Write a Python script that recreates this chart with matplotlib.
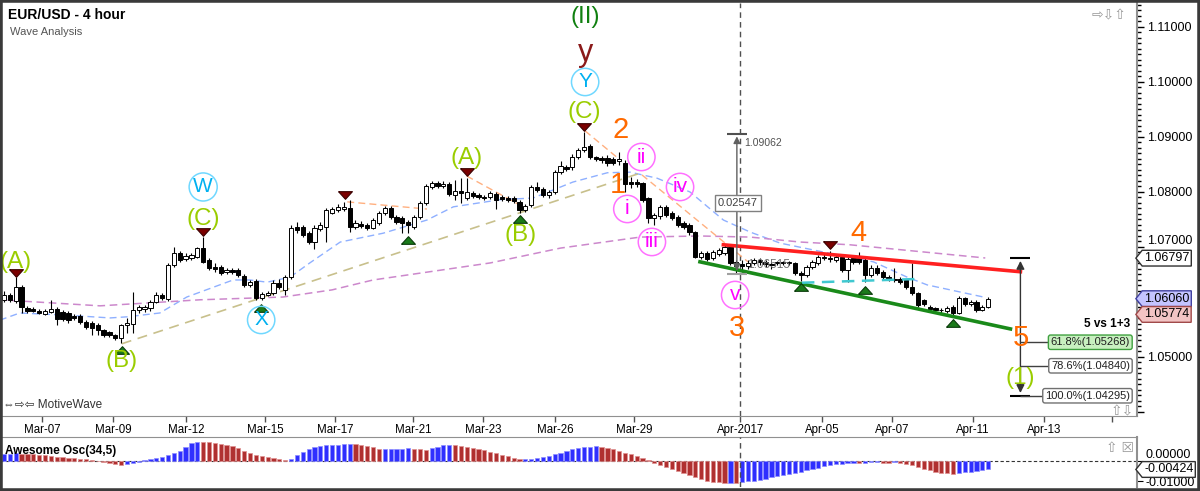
import numpy as np
import matplotlib.pyplot as plt
from matplotlib.path import Path
from matplotlib.patches import Rectangle
from matplotlib.ticker import MultipleLocator

plt.rcParams['font.family'] = ['Liberation Sans', 'DejaVu Sans']

# EUR/USD 4h candles, in pips above 1.0000
opens = [604, 613, 602, 627, 589, 587, 584, 578, 582, 587,
         582, 580, 575, 575, 564, 562, 558, 549, 545, 540,
         535, 558, 560, 585, 587, 589, 600, 613, 606, 667,
         689, 678, 680, 682, 698, 676, 664, 664, 655, 658,
         658, 647, 631, 638, 607, 613, 616, 635, 622, 645,
         736, 736, 725, 709, 733, 736, 762, 767, 769, 771,
         736, 742, 740, 735, 744, 762, 771, 755, 753, 745,
         736, 755, 780, 809, 816, 811, 815, 795, 802, 789,
         798, 795, 791, 791, 796, 791, 789, 789, 782, 767,
         776, 809, 805, 795, 800, 836, 845, 845, 864, 876,
         884, 864, 862, 862, 860, 856, 853, 818, 818, 816,
         789, 753, 756, 773, 762, 755, 744, 740, 727, 682,
         689, 680, 687, 689, 700, 673, 669, 665, 671, 676,
         673, 669, 671, 672, 671, 671, 653, 649, 664, 671,
         682, 680, 676, 682, 658, 680, 680, 676, 649, 662,
         655, 645, 642, 642, 640, 627, 616, 604, 591, 589,
         585, 584, 591, 580, 607, 596, 600, 585, 591]
highs = [620, 617, 645, 630, 592, 590, 587, 587, 604, 590,
         585, 584, 578, 578, 567, 565, 562, 551, 547, 542,
         560, 571, 618, 595, 595, 604, 618, 616, 671, 700,
         693, 689, 689, 700, 718, 680, 671, 667, 662, 662,
         662, 651, 640, 642, 618, 620, 640, 642, 649, 740,
         745, 740, 729, 740, 745, 770, 773, 778, 782, 785,
         749, 747, 744, 753, 765, 775, 775, 758, 756, 749,
         758, 784, 815, 820, 820, 820, 818, 822, 825, 825,
         802, 798, 795, 802, 800, 795, 793, 793, 785, 778,
         813, 818, 809, 804, 840, 856, 849, 869, 880, 909,
         887, 866, 866, 867, 864, 873, 858, 827, 824, 818,
         791, 762, 776, 776, 765, 758, 747, 744, 729, 693,
         693, 695, 698, 704, 704, 676, 676, 676, 680, 680,
         676, 673, 675, 675, 675, 673, 656, 667, 676, 685,
         687, 693, 687, 685, 682, 685, 691, 680, 667, 667,
         658, 649, 662, 645, 642, 671, 618, 606, 595, 591,
         589, 593, 595, 611, 609, 604, 604, 595, 609]
lows = [600, 600, 598, 580, 580, 582, 578, 576, 580, 558,
        565, 562, 567, 560, 551, 540, 540, 536, 536, 531,
        525, 544, 544, 580, 582, 584, 598, 604, 602, 664,
        673, 675, 676, 680, 671, 658, 655, 649, 651, 651,
        645, 627, 627, 604, 604, 611, 613, 624, 613, 642,
        725, 718, 705, 696, 729, 709, 760, 764, 765, 727,
        733, 735, 731, 733, 740, 758, 751, 742, 725, 725,
        733, 751, 776, 805, 807, 807, 793, 785, 780, 785,
        789, 787, 785, 787, 769, 784, 782, 780, 762, 764,
        773, 800, 791, 789, 796, 833, 838, 840, 860, 873,
        860, 856, 853, 847, 849, 849, 800, 807, 809, 782,
        744, 740, 751, 755, 749, 736, 733, 722, 680, 678,
        675, 676, 684, 685, 667, 652, 655, 660, 667, 667,
        664, 660, 668, 668, 668, 649, 638, 645, 660, 667,
        676, 673, 673, 655, 636, 669, 669, 636, 645, 649,
        642, 638, 636, 633, 624, 613, 591, 593, 584, 582,
        580, 580, 577, 578, 593, 593, 582, 584, 589]
closes = [613, 604, 627, 591, 584, 584, 580, 584, 587, 569,
          569, 567, 571, 564, 555, 553, 549, 540, 540, 535,
          558, 562, 585, 591, 591, 600, 613, 607, 667, 689,
          676, 684, 685, 698, 673, 662, 660, 653, 658, 655,
          649, 631, 636, 607, 615, 616, 635, 628, 645, 735,
          731, 722, 709, 735, 740, 767, 769, 773, 773, 736,
          744, 738, 735, 749, 762, 771, 755, 745, 744, 740,
          755, 780, 811, 816, 811, 815, 796, 802, 798, 800,
          793, 791, 789, 798, 785, 787, 785, 784, 767, 775,
          809, 804, 795, 800, 836, 847, 842, 864, 876, 882,
          864, 860, 858, 853, 853, 860, 815, 815, 815, 785,
          753, 758, 773, 758, 753, 740, 736, 727, 682, 689,
          678, 691, 695, 700, 671, 665, 665, 671, 676, 673,
          669, 667, 672, 671, 671, 653, 649, 664, 673, 682,
          680, 678, 682, 658, 678, 673, 673, 649, 662, 653,
          645, 642, 640, 636, 627, 616, 595, 596, 587, 585,
          585, 589, 580, 607, 596, 600, 585, 591, 606]

# Awesome Oscillator (34,5), in pips
ao_pips = [35, 37, 38, 37, 36, 34, 31, 28, 25, 22,
           19, 16, 13, 11, 8, 5, -2, -7, -12, -16,
           -19, -15, -9, -3, 4, 9, 15, 22, 30, 40,
           52, 72, 88, 96, 95, 93, 90, 86, 81, 74,
           64, 52, 40, 31, 24, 18, 13, 9, 5, 12,
           28, 45, 60, 72, 77, 79, 80, 82, 84, 86,
           84, 80, 75, 68, 61, 61, 61, 62, 62, 63,
           61, 59, 57, 64, 72, 78, 80, 79, 76, 72,
           67, 61, 54, 47, 40, 32, 24, 16, 9, 10,
           12, 15, 19, 24, 36, 42, 50, 58, 64, 69,
           72, 74, 72, 66, 58, 50, 42, 33, 24, 14,
           3, -10, -20, -30, -40, -50, -60, -70, -80, -90,
           -98, -104, -107, -109, -108, -110, -106, -102, -98, -93,
           -88, -82, -77, -71, -65, -59, -53, -47, -41, -34,
           -27, -21, -17, -14, -12, -10, -11, -9, -7, -6,
           -8, -9, -7, -10, -15, -22, -30, -38, -46, -53,
           -58, -62, -64, -61, -57, -53, -49, -45, -42]

date_ticks = [6.5, 18.6, 31.1, 44.6, 56.5, 69.8, 81.8, 94.1, 107.6,
              125.7, 139.7, 151.6, 165.4, 177.6, 189.2]
date_labels = ['Mar-07', 'Mar-09', 'Mar-12', 'Mar-15', 'Mar-17', 'Mar-21',
               'Mar-23', 'Mar-26', 'Mar-29', 'Apr-2017', 'Apr-05', 'Apr-07',
               'Apr-11', 'Apr-13', '']

# moving averages (bar index, pips)
fast_ma_bars = [-0.7, 2.7, 10.8, 18.1, 21, 26.6, 31.2, 39.1, 42, 44.9, 48.8,
                52.2, 57.4, 64.7, 72.2, 76.7, 84.7, 90.3, 97.1, 103, 106.9,
                111.5, 117.1, 122.8, 127.4, 132.5, 139.8, 148.4, 154.2, 157.6,
                167.2]
fast_ma = [567, 580, 576, 571, 573, 580, 609, 640, 640, 636, 645,
           671, 709, 725, 749, 773, 786, 789, 818, 835, 836,
           825, 800, 749, 727, 707, 691, 673, 645, 631, 609]
slow_ma_bars = [-0.7, 16.4, 33.5, 47.6, 56, 63, 83, 95, 108.6, 118.8, 127.4,
                135.9, 144.4, 167.5]
slow_ma = [604, 593, 604, 609, 622, 640, 671, 698, 718, 720, 718,
           709, 704, 680]

# trend lines (bar index pairs, pips)
channel_bars, channel_pips = [20.1, 109.1], [524, 836]
zigzag_bars = [[58.6, 72.2], [79, 88.1], [99.2, 105.2], [108.9, 127]]
zigzag_pips = [[782, 769], [829, 776], [911, 858], [831, 673]]
upper_bars, upper_pips = [122.8, 173.5], [704, 655]
lower_bars, lower_pips = [118.8, 171.8], [673, 551]
mid_bars, mid_pips = [136.2, 156.4], [635, 642]

swing_high_bars = [2, 34, 58.2, 79, 99, 141]
swing_high_px = [1.06527, 1.07273, 1.07945, 1.08364, 1.09182, 1.07036]
swing_low_bars = [20.1, 43.9, 69, 88.1, 136.1, 147, 162]
swing_low_px = [1.05127, 1.05891, 1.07127, 1.07509, 1.06273, 1.06218, 1.05618]

fib_levels = [1.05268, 1.04840, 1.04295]
fib_names = ['61.8%', '78.6%', '100.0%']
proj_top = 1.06797
measure_top, measure_low = 1.09062, 1.06515
last_price, recent_low, ao_last = 1.06060, 1.05774, -0.00424


def to_price(v):
    return 1 + np.asarray(v, dtype=float) / 1e4


def tag_box(x0, y0, width, height, mutation_size):
    pad = 0.15 * mutation_size
    x0, y0 = x0 - pad, y0 - pad
    x1, y1 = x0 + width + 2 * pad, y0 + height + 2 * pad
    ym = (y0 + y1) / 2
    tip = x0 - (y1 - y0) * 0.4
    return Path([(tip, ym), (x0, y1), (x1, y1), (x1, y0), (x0, y0), (tip, ym)],
                closed=True)


o, h, l, c = (to_price(v) for v in (opens, highs, lows, closes))
idx = np.arange(len(o))

fig = plt.figure(figsize=(12, 4.91), dpi=100)
ax = fig.add_axes([0, 75 / 491, 1137 / 1200, 413 / 491])
osc = fig.add_axes([0, 4 / 491, 1137 / 1200, 50 / 491])

xlim = (-0.68, 193.4)
ax.set_xlim(xlim)
ax.set_ylim(1.03927, 1.11436)

# moving averages and helper lines behind the candles
ax.plot(fast_ma_bars, to_price(fast_ma), color='#8fb0ff', lw=1, ls=(0, (5, 3)), zorder=2)
ax.plot(slow_ma_bars, to_price(slow_ma), color='#cc88cc', lw=1.1, ls=(0, (5, 3)), zorder=2)
ax.plot(channel_bars, to_price(channel_pips), color='#c8c08c', lw=1.2, ls=(0, (6, 4)), zorder=2)
for xs, ys in zip(zigzag_bars, zigzag_pips):
    ax.plot(xs, to_price(ys), color='#ffb080', lw=1, ls=(0, (5, 3)), zorder=2)

# candles
up = c >= o
ax.vlines(idx, l, h, color='black', lw=0.8, zorder=3)
body_lo = np.minimum(o, c)
body_h = np.maximum(np.abs(c - o), 0.00012)
ax.bar(idx, body_h, 0.72, bottom=body_lo, color=np.where(up, 'white', 'black'),
       edgecolor='black', lw=0.7, zorder=4)

# triangle
ax.plot(upper_bars, to_price(upper_pips), color='#ff2020', lw=2.6, zorder=5)
ax.plot(lower_bars, to_price(lower_pips), color='#1a8a1a', lw=2.6, zorder=5)
ax.plot(mid_bars, to_price(mid_pips), color='#40c8d0', lw=1.8, ls=(0, (5, 3)), zorder=5)

flat_down = [(-1, 0.55), (1, 0.55), (0, -0.55), (-1, 0.55)]
flat_up = [(-1, -0.55), (1, -0.55), (0, 0.55), (-1, -0.55)]
ax.plot(swing_high_bars, swing_high_px, ls='none', marker=flat_down, ms=10,
        color='#7b0000', mec='#3a0000', mew=0.8, zorder=6)
ax.plot(swing_low_bars, swing_low_px, ls='none', marker=flat_up, ms=10,
        color='#1a7a1a', mec='#0a3a0a', mew=0.8, zorder=6)

# wave labels
lime, cyan, magenta, orange = '#9acd00', '#00b0f0', '#ff00ff', '#ff6a00'
plain = [('(A)', 2, 1.0673, lime, 17.5), ('(B)', 20.1, 1.04927, lime, 17.5),
         ('(C)', 34, 1.07509, lime, 17.5), ('(A)', 79, 1.08618, lime, 17.5),
         ('(B)', 88.1, 1.07218, lime, 17.5), ('(C)', 99, 1.09455, lime, 17.5),
         ('y', 99.2, 1.10527, '#8b1a1a', 22), ('(II)', 99.2, 1.11182, '#108010', 17.5),
         ('2', 105.3, 1.09127, orange, 21), ('1', 104.7, 1.08127, orange, 21),
         ('3', 125.1, 1.05527, orange, 21), ('4', 145.8, 1.07255, orange, 21),
         ('5', 173.5, 1.05345, orange, 21), ('(1)', 173.5, 1.04618, lime, 17.5)]
for s, x, y, col, fs in plain:
    ax.text(x, y, s, color=col, fontsize=fs, ha='center', va='center', zorder=7)

ringed = [('W', 34, 1.08091, cyan, '#70d8ff'), ('X', 43.9, 1.05673, cyan, '#70d8ff'),
          ('Y', 99.2, 1.1, cyan, '#70d8ff'), ('ii', 108.8, 1.08636, magenta, '#ff70ff'),
          ('i', 106.4, 1.07691, magenta, '#ff70ff'), ('iv', 115.4, 1.08091, magenta, '#ff70ff'),
          ('iii', 110.6, 1.07091, magenta, '#ff70ff'), ('v', 124.8, 1.06127, magenta, '#ff70ff')]
for s, x, y, col, ring in ringed:
    ax.text(x, y, s, color=col, fontsize=15, ha='center', va='center', zorder=7,
            bbox=dict(boxstyle='circle,pad=0.2', fc='none', ec=ring, lw=1.1))

# measuring tool around wave 3
ax.annotate('', xy=(125.1, measure_top), xytext=(125.1, measure_low),
            arrowprops=dict(arrowstyle='<|-|>', color='#606060', lw=1, mutation_scale=10),
            zorder=6)
ax.hlines(measure_top, 123.4, 126.8, color='#505050', lw=1.5, zorder=6)
ax.hlines(measure_low, 123.4, 126.8, color='#a0a0a0', lw=1.5, zorder=6)
ax.text(126.3, measure_top - 0.0017, f'{measure_top:.5f}', color='#505050', fontsize=7.5,
        va='center', zorder=7)
ax.text(125.3, 1.0780, f'{measure_top - measure_low:.5f}', color='#404040', fontsize=8,
        ha='center', va='center', zorder=7,
        bbox=dict(boxstyle='square,pad=0.25', fc='white', ec='#808080', lw=1))
ax.text(126.9, 1.0667, f'{measure_low:.5f}', color='#707070', fontsize=8.5,
        va='center', zorder=7)

# wave 5 projection
ax.annotate('', xy=(173.5, proj_top), xytext=(173.5, fib_levels[-1]),
            arrowprops=dict(arrowstyle='<|-|>', color='#333333', lw=1, mutation_scale=12),
            zorder=6)
ax.hlines([proj_top, fib_levels[-1]], 171.8, 175.2, color='black', lw=1.5, zorder=6)
ax.hlines(fib_levels[:2], 173.5, 179.4, color='#404040', lw=1, zorder=6)
ax.hlines(fib_levels[2], 173.5, 178.2, color='#404040', lw=1, zorder=6)
for lvl, name in zip(fib_levels, fib_names):
    green = name == '61.8%'
    ax.text(192.2, lvl, f'{name}({lvl:.5f})', fontsize=8, ha='right', va='center',
            color='#202020', zorder=8,
            bbox=dict(boxstyle='round,pad=0.2', fc='#c8f0c0' if green else 'white',
                      ec='#40a040' if green else '#707070', lw=1))
ax.text(192.2, 1.0560, '5 vs 1+3', fontsize=8.5, fontweight='bold', ha='right',
        va='center', zorder=8)

ax.axvline(125.7, color='#505050', lw=1, ls=(0, (4, 3)), zorder=1)

# price axis
ax.yaxis.tick_right()
ax.set_yticks(np.arange(1.04, 1.1101, 0.01))
ax.set_yticklabels(['', '1.05000', '', '1.07000', '1.08000', '1.09000', '1.10000', '1.11000'])
ax.get_yticklabels()[3].set_va('bottom')
ax.yaxis.set_minor_locator(MultipleLocator(0.001))
ax.tick_params(axis='y', which='major', length=5, width=1, labelsize=9, pad=2)
ax.tick_params(axis='y', which='minor', length=3, width=1)
ax.set_xticks(date_ticks)
ax.set_xticklabels(date_labels)
ax.tick_params(axis='x', length=4, width=1, labelsize=8.3, pad=2, color='#505050')
for side in ('left', 'top'):
    ax.spines[side].set_visible(False)
ax.spines['right'].set_color('#909090')
ax.spines['right'].set_linewidth(1.5)
ax.spines['bottom'].set_color('#909090')

tag_font = 9
ytr = ax.get_yaxis_transform()
for val, fc, ec in [(proj_top, 'white', '#303030'), (last_price, '#c4c4ff', '#4040a0'),
                    (recent_low, '#f2c4c4', '#a04848')]:
    ax.text(1.0062, val, f'{val:.5f}', transform=ytr, fontsize=tag_font, va='center',
            ha='left', zorder=9, clip_on=False,
            bbox=dict(boxstyle=tag_box, fc=fc, ec=ec, lw=1))

ax.text(0.007, 0.971, 'EUR/USD - 4 hour', transform=ax.transAxes, fontsize=10,
        fontweight='bold', va='center')
ax.text(0.009, 0.93, 'Wave Analysis', transform=ax.transAxes, fontsize=8,
        color='#555555', va='center')
ax.text(0.003, 0.027, '\u21d4\u21e8\u21e6 MotiveWave', transform=ax.transAxes,
        fontsize=8.5, color='#333333', va='center')
ax.text(0.987, 0.012, '\u21e7\u21e9', transform=ax.transAxes, fontsize=10,
        color='#999999', ha='center', va='center')
ax.text(0.975, 0.971, '\u21e8\u21e9\u21e7', transform=ax.transAxes, fontsize=10,
        color='#999999', ha='center', va='center')

# awesome oscillator
ao = np.asarray(ao_pips) / 1e4
rising = np.r_[True, ao[1:] >= ao[:-1]]
osc.bar(idx, ao, 0.72, color=np.where(rising, '#2f2fff', '#b03030'),
        edgecolor=np.where(rising, '#8c8cff', '#e09090'), lw=0.5, zorder=3)
osc.axhline(0, color='#333333', lw=0.8, ls=(0, (3, 2)), zorder=2)
osc.axvline(125.7, color='#505050', lw=1, ls=(0, (4, 3)), zorder=4)
osc.set_xlim(xlim)
osc.set_ylim(-0.0130, 0.0120)
osc.set_xticks([])
osc.yaxis.tick_right()
osc.set_yticks([0, -0.01])
osc.set_yticklabels(['0.00000', '-0.01000'])
osc.get_yticklabels()[0].set_va('bottom')
osc.tick_params(axis='y', length=4, labelsize=9, pad=2)
for side in ('left', 'bottom'):
    osc.spines[side].set_visible(False)
osc.spines['right'].set_color('#909090')
osc.spines['right'].set_linewidth(1.5)
osc.spines['top'].set_color('#909090')
osc.text(0.004, 0.72, 'Awesome Osc(34,5)', transform=osc.transAxes, fontsize=8.5,
         fontweight='bold', va='center', zorder=6)
osc.text(0.985, 0.78, '\u21e7 \u2612', transform=osc.transAxes, fontsize=10,
         color='#999999', ha='center', va='center')
osc.text(1.0062, ao_last, f'{ao_last:.5f}', transform=osc.get_yaxis_transform(),
         fontsize=tag_font, va='center', ha='left', zorder=9, clip_on=False,
         bbox=dict(boxstyle=tag_box, fc='white', ec='#303030', lw=1))

fig.patches.append(Rectangle((0, 0), 1, 1, transform=fig.transFigure, fill=False,
                             ec='#3a3a3a', lw=4))

fig.savefig('out.png', dpi=100)
